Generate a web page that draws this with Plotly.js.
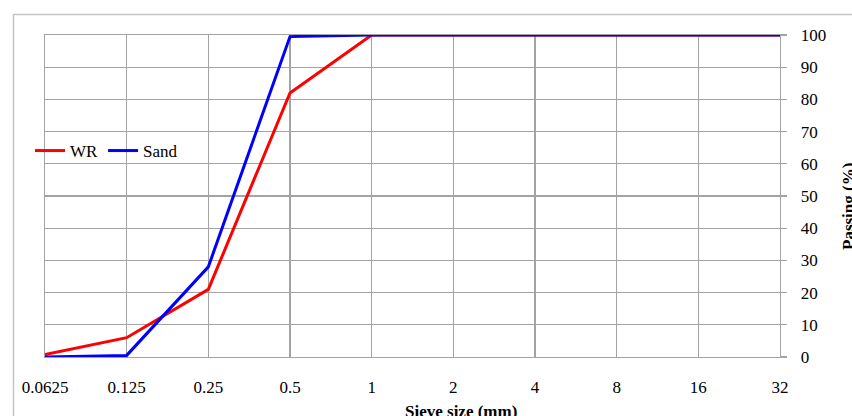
<!DOCTYPE html>
<html>
<head>
<meta charset="utf-8">
<script src="https://cdn.plot.ly/plotly-3.0.1.min.js"></script>
<style>
html,body{margin:0;padding:0;background:#fff;}
#chart{width:852px;height:416px;}
</style>
</head>
<body>
<div id="chart"></div>
<script>
const sieveSizes = [0.0625, 0.125, 0.25, 0.5, 1, 2, 4, 8, 16, 32];
const tickLabels = ["0.0625", "0.125", "0.25", "0.5", "1", "2", "4", "8", "16", "32"];
const wrPassing = [0.8, 6, 21, 82, 100, 100, 100, 100, 100, 100];
const sandPassing = [0, 0.5, 28, 99.5, 100, 100, 100, 100, 100, 100];
const seriesNames = ["WR", "Sand"];

const FONT = "'Liberation Serif', 'Times New Roman', serif";
const GRID = "#a3a3a3";

const L = 45, R = 780, T = 35, B = 357, W = 852, H = 416;
const pw = R - L, ph = B - T;
const px = v => (v - L) / pw;
const py = v => (B - v) / ph;

const traces = [
  {x: sieveSizes, y: wrPassing, name: seriesNames[0], type: "scatter", mode: "lines",
   line: {color: "#ff0000", width: 3}},
  {x: sieveSizes, y: sandPassing, name: seriesNames[1], type: "scatter", mode: "lines",
   line: {color: "#0000ff", width: 3}}
];

const layout = {
  width: W, height: H,
  margin: {l: L, r: W - R, t: T, b: H - B},
  paper_bgcolor: "#fff", plot_bgcolor: "#fff",
  font: {family: FONT, size: 17, color: "#000"},
  showlegend: true,
  legend: {orientation: "h", x: px(30), y: py(151), xanchor: "left", yanchor: "middle",
           bgcolor: "rgba(0,0,0,0)", font: {family: FONT, size: 17}, itemwidth: 30,
           tracegroupgap: 0, traceorder: "normal"},
  xaxis: {type: "log", range: [Math.log10(0.0625), Math.log10(32)],
          tickvals: sieveSizes, ticktext: tickLabels, ticks: "", ticklabelstandoff: 14,
          showgrid: true, gridcolor: GRID, gridwidth: 1.3,
          showline: true, linecolor: GRID, linewidth: 1.3, mirror: true, zeroline: false,
          tickfont: {family: FONT, size: 17}},
  yaxis: {side: "right", range: [0, 100], dtick: 10, tick0: 0,
          ticks: "outside", ticklen: 6, tickcolor: GRID, tickwidth: 1.3, ticklabelstandoff: 10,
          showgrid: true, gridcolor: GRID, gridwidth: 1.3,
          showline: true, linecolor: GRID, linewidth: 1.3, mirror: true, zeroline: false,
          tickfont: {family: FONT, size: 17}},
  shapes: [
    {type: "rect", xref: "paper", yref: "paper", layer: "below",
     x0: px(13.5), x1: px(900), y0: py(460), y1: py(14.5),
     line: {color: "#c4c4c4", width: 1.5}, fillcolor: "rgba(0,0,0,0)"}
  ],
  annotations: [
    {text: "<b>Sieve size (mm)</b>", xref: "paper", yref: "paper", x: px(461), y: py(411),
     xanchor: "center", yanchor: "middle", showarrow: false, font: {family: FONT, size: 17}},
    {text: "<b>Passing (%)</b>", xref: "paper", yref: "paper", x: px(848), y: py(207),
     xanchor: "center", yanchor: "middle", textangle: -90, showarrow: false,
     font: {family: FONT, size: 17}}
  ]
};

Plotly.newPlot("chart", traces, layout, {displayModeBar: false, staticPlot: true});
</script>
</body>
</html>
